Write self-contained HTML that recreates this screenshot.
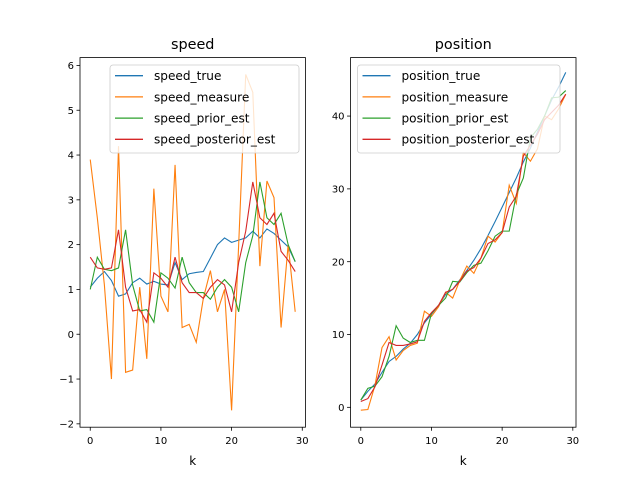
<!DOCTYPE html>
<html><head><meta charset="utf-8"><style>body{margin:0;background:#fff}svg{display:block;font-family:"DejaVu Sans","Liberation Sans",sans-serif}</style></head>
<body>
<svg id="fig" width="640" height="480"></svg>
<script>
const kValues=[...Array(30).keys()];
const speedTrue=[1.05,1.25,1.4,1.2,0.85,0.9,1.15,1.25,1.12,1.18,1.12,1.1,1.6,1.22,1.35,1.38,1.4,1.7,2.0,2.15,2.05,2.1,2.15,2.3,2.15,2.35,2.25,2.1,1.95,1.62];
const speedMeasure=[3.9,2.6,1.1,-1.0,4.2,-0.85,-0.8,1.05,-0.55,3.25,0.85,0.5,3.78,0.15,0.22,-0.18,0.8,1.42,0.5,1.0,-1.7,2.0,5.8,5.4,1.52,3.42,3.05,0.15,2.0,0.5];
const speedPrior=[1.0,1.72,1.45,1.42,1.48,2.33,1.1,0.52,0.55,0.27,1.37,1.25,1.03,1.72,1.15,0.93,0.93,0.78,1.05,1.22,1.05,0.5,1.6,2.2,3.4,2.6,2.45,2.7,2.0,1.62];
const speedPost=[1.72,1.48,1.45,1.48,2.33,1.05,0.52,0.55,0.27,1.37,1.25,1.05,1.72,1.15,0.93,0.93,0.8,1.05,1.22,1.1,0.5,1.6,2.3,3.4,2.6,2.45,2.7,1.85,1.65,1.4];
const posTrue=[1.0,2.2,3.2,4.8,6.3,7.0,8.0,8.8,10.0,11.6,12.8,14.0,15.5,16.2,17.5,18.8,20.2,21.8,23.6,25.5,27.5,29.5,31.5,33.7,35.6,37.8,40.0,42.2,44.0,46.0];
const posMeasure=[-0.4,-0.3,3.0,8.2,9.7,6.5,7.8,8.5,8.8,13.2,12.5,13.8,15.8,15.0,17.4,19.4,18.4,20.5,23.5,22.7,24.0,30.5,28.0,35.0,33.8,35.5,40.0,39.5,41.0,43.0];
const posPrior=[1.0,2.6,2.9,4.2,7.0,11.2,9.5,8.9,9.2,9.2,12.9,14.0,15.0,17.3,17.2,18.5,19.5,19.8,21.5,23.5,24.2,24.2,29.2,31.5,37.0,38.2,40.0,42.5,42.6,43.5];
const posPost=[0.8,1.2,2.8,5.8,8.9,8.5,8.5,8.7,9.0,11.8,13.0,14.0,15.8,16.2,17.3,18.7,19.2,20.5,22.5,23.0,24.0,27.5,29.0,34.5,36.0,37.5,39.5,40.5,41.5,43.0];
const xTicks=[0,10,20,30];
const speedYTicks=[-2,-1,0,1,2,3,4,5,6];
const posYTicks=[0,10,20,30,40];
const colors=['#1f77b4','#ff7f0e','#2ca02c','#d62728'];
const NS='http://www.w3.org/2000/svg';
const svg=document.getElementById('fig');
function mk(tag,attrs,parent){const e=document.createElementNS(NS,tag);for(const k in attrs)e.setAttribute(k,attrs[k]);(parent||svg).appendChild(e);return e;}
function panel(name,left,right,ymin,ymax,series,labels,yticks,title){
  const top=57.6,bot=427.2;
  const g=mk('g',{});
  
  
  const xs=k=>left+(k+1.45)*(right-left)/31.9;
  const ys=v=>bot-(v-ymin)/(ymax-ymin)*(bot-top);
  series.forEach((s,i)=>{
    const p=mk('polyline',{points:s.map((v,k)=>xs(kValues[k])+','+ys(v)).join(' '),fill:'none',stroke:colors[i],'stroke-width':1.1},g);
    
    
  });
  const fr=mk('rect',{x:left,y:top,width:right-left,height:bot-top,fill:'none',stroke:'#000','stroke-width':0.8},g);
  
  
  xTicks.forEach(t=>{const x=xs(t);mk('line',{x1:x,x2:x,y1:bot,y2:bot+3.5,stroke:'#000','stroke-width':0.8},g);
    const tx=mk('text',{x:x,y:bot+17,'font-size':10,'text-anchor':'middle'},g);tx.textContent=t;
    
    });
  yticks.forEach(t=>{const y=ys(t);mk('line',{x1:left-3.5,x2:left,y1:y,y2:y,stroke:'#000','stroke-width':0.8},g);
    const tx=mk('text',{x:left-6,y:y+3.6,'font-size':10,'text-anchor':'end'},g);tx.textContent=t<0?'\u2212'+(-t):t;
    
    });
  const tt=mk('text',{x:(left+right)/2,y:49,'font-size':14.4,'text-anchor':'middle'},g);tt.textContent=title;
  
  
  const xl=mk('text',{x:(left+right)/2,y:465,'font-size':12,'text-anchor':'middle'},g);xl.textContent='k';
  
  
  return g;
}
function legend(g,x0,w,labels){
  const lg=mk('g',{},g);
  
  
  mk('rect',{x:x0,y:65,width:w,height:88,rx:3,fill:'#fff','fill-opacity':0.8,stroke:'#ccc','stroke-width':0.8},lg);
  labels.forEach((l,i)=>{const y=75.7+i*21.2;
    mk('line',{x1:x0+5,x2:x0+33,y1:y,y2:y,stroke:colors[i],'stroke-width':1.3},lg);
    const t=mk('text',{x:x0+44,y:y+4.4,'font-size':12.1},lg);t.textContent=l;
    
    });
}
const sl=['speed_true','speed_measure','speed_prior_est','speed_posterior_est'];
const pl=['position_true','position_measure','position_prior_est','position_posterior_est'];
const g1=panel('speed',80,305.45,-2.075,6.175,[speedTrue,speedMeasure,speedPrior,speedPost],sl,speedYTicks,'speed');
legend(g1,110,189,sl);
const g2=panel('position',350.55,576,-2.73,48.03,[posTrue,posMeasure,posPrior,posPost],pl,posYTicks,'position');
legend(g2,357.5,202.5,pl);
</script>
</body></html>
